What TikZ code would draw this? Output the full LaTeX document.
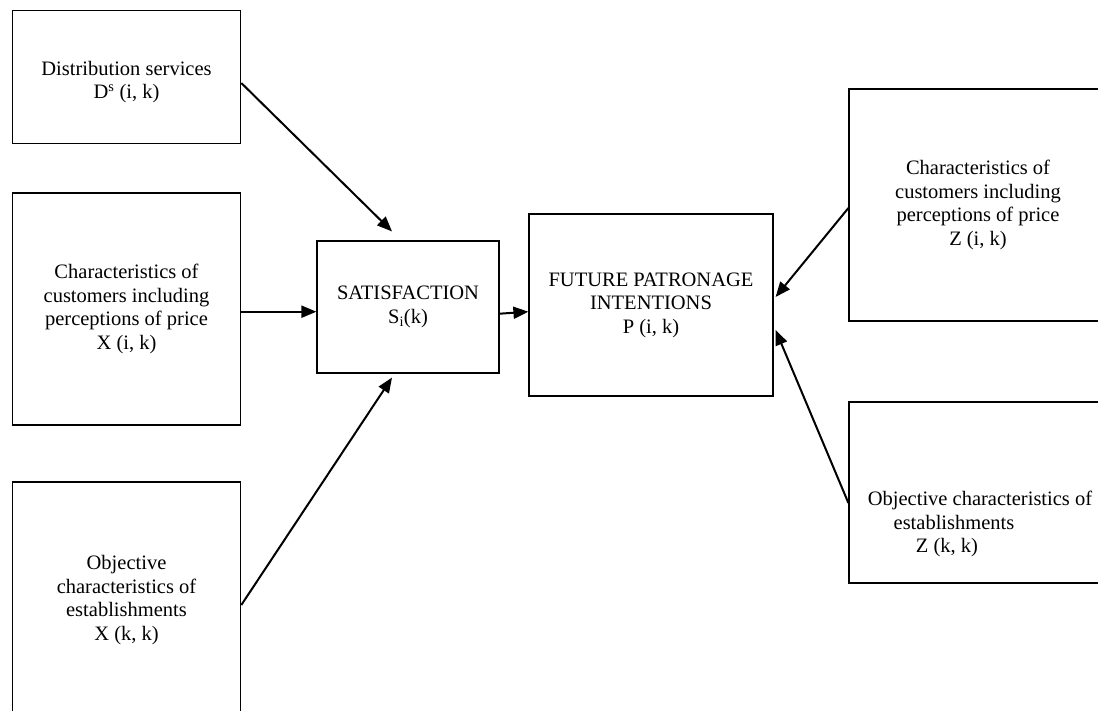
\documentclass[tikz,border=0pt]{standalone}
\usepackage{fontspec}
\setmainfont{Liberation Serif}
\usetikzlibrary{arrows.meta}
\tikzset{
  box/.style={draw=black, line width=1.2pt, rectangle, inner sep=0pt, align=center, font=\fontsize{20.5}{23.5}\selectfont},
  txt/.style={inner sep=0pt, align=center, font=\fontsize{20.5}{23.5}\selectfont},
  arr/.style={line width=2pt, -{Triangle[length=15pt,width=12pt]}}
}
\begin{document}
\begin{tikzpicture}[x=1pt,y=-1pt]
\useasboundingbox (0,0) rectangle (1098,710);
\clip (0,0) rectangle (1098,710);
\node[box, minimum width=228.4pt, minimum height=132.6pt] (b1) at (126.5,77) {};
\node[txt] (b1t) at (126.5,82) {Distribution services\\D\textsuperscript{s} (i, k)};
\node[box, minimum width=228.4pt, minimum height=232pt] (b2) at (126.5,309) {Characteristics of\\customers including\\perceptions of price\\X (i, k)};
\node[box, minimum width=228.4pt, minimum height=236pt] (b3) at (126.5,600) {Objective\\characteristics of\\establishments\\X (k, k)};
\node[box, minimum width=182pt, minimum height=132pt] (sat) at (408,307) {SATISFACTION\\S\textsubscript{i}(k)};
\node[box, minimum width=244pt, minimum height=182pt] (fut) at (651,305) {FUTURE PATRONAGE\\INTENTIONS\\P (i, k)};
\node[box, minimum width=258pt, minimum height=232pt] (rt) at (978,205) {Characteristics of\\customers including\\perceptions of price\\Z (i, k)};
\node[box, minimum width=258pt, minimum height=181pt] (rb) at (978,492.5) {};
\node[txt] (rbt) at (980,524) {Objective characteristics of\\\hspace*{-52pt}establishments\\\hspace*{-66pt}Z (k, k)};
\draw[arr] ([yshift=-6pt]b1.east) -- ([xshift=-16pt,yshift=9pt]sat.north);
\draw[arr] ([yshift=-2.7pt]b2.east) -- ([yshift=-4.7pt]sat.west);
\draw[arr] ([yshift=-5pt]b3.east) -- ([xshift=-16pt,yshift=-4pt]sat.south);
\draw[arr] ([yshift=-6.7pt]sat.east) -- ([yshift=-6.7pt]fut.west);
\draw[arr] ([yshift=-3pt]rt.west) -- ([xshift=2pt,yshift=8pt]fut.east);
\draw[arr] ([yshift=-10.5pt]rb.west) -- ([xshift=2pt,yshift=-25pt]fut.east);
\end{tikzpicture}
\end{document}
